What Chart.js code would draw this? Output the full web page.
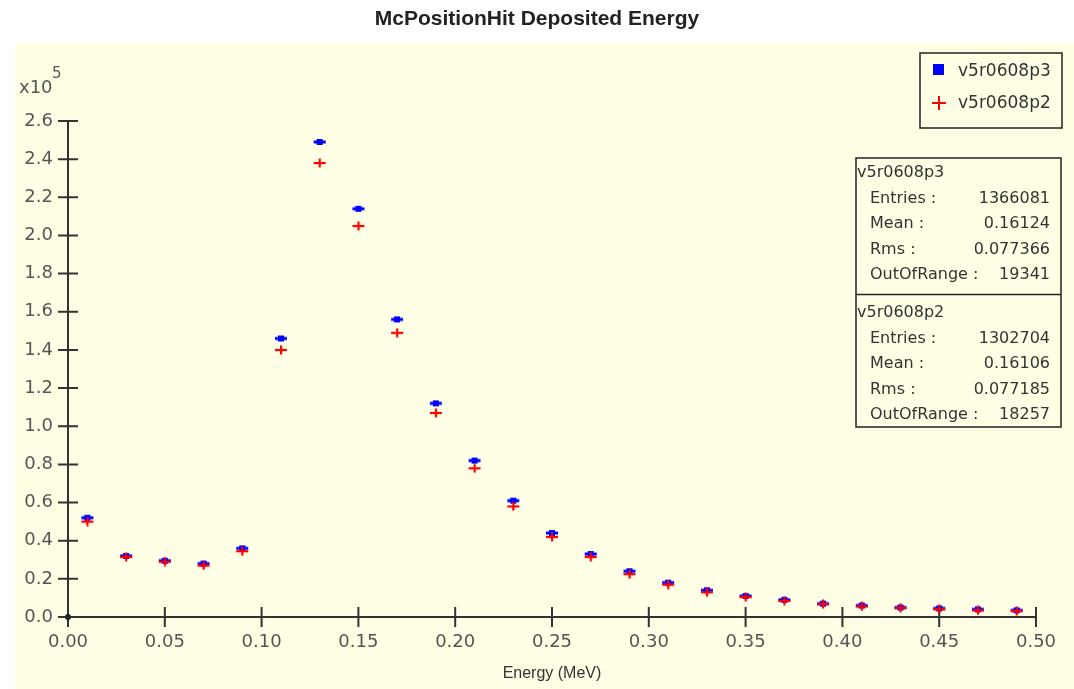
<!DOCTYPE html>
<html>
<head>
<meta charset="utf-8">
<style>
  html, body { margin: 0; padding: 0; background: #ffffff; }
  canvas { display: block; }
</style>
<script src="https://cdn.jsdelivr.net/npm/chart.js@4.4.1/dist/chart.umd.min.js"></script>
</head>
<body>
<canvas id="c" width="1074" height="689"></canvas>
<script>
// ---- data (values in units of 1e5 entries) ----
const chartTitle = 'McPositionHit Deposited Energy';
const xAxisTitle = 'Energy (MeV)';
const yAxisMultiplier = ['x10', '5'];
const seriesNames = ['v5r0608p3', 'v5r0608p2'];
const binCenters = [0.01, 0.03, 0.05, 0.07, 0.09, 0.11, 0.13, 0.15, 0.17, 0.19, 0.21, 0.23, 0.25,
                    0.27, 0.29, 0.31, 0.33, 0.35, 0.37, 0.39, 0.41, 0.43, 0.45, 0.47, 0.49];
const p3Values = [0.52, 0.32, 0.295, 0.28, 0.36, 1.46, 2.49, 2.14, 1.56, 1.12, 0.82, 0.61, 0.44,
                  0.33, 0.24, 0.18, 0.14, 0.11, 0.09, 0.07, 0.06, 0.05, 0.045, 0.04, 0.035];
const p2Values = [0.50, 0.315, 0.29, 0.27, 0.345, 1.40, 2.38, 2.05, 1.49, 1.07, 0.78, 0.58, 0.42,
                  0.315, 0.225, 0.17, 0.13, 0.105, 0.085, 0.068, 0.056, 0.048, 0.041, 0.035, 0.032];
const xTickStep = 0.05, xMin = 0, xMax = 0.5;
const yTickStep = 0.2, yMin = 0, yMax = 2.6;
// statistics box
const statNames = ['v5r0608p3', 'v5r0608p2'];
const statEntries = ['1366081', '1302704'];
const statMeans = ['0.16124', '0.16106'];
const statRms = ['0.077366', '0.077185'];
const statOutOfRange = ['19341', '18257'];

// ---- marker images ----
function blueMarker() {
  const c = document.createElement('canvas');
  c.width = 14; c.height = 8;
  const g = c.getContext('2d');
  g.fillStyle = '#0000ff';
  g.fillRect(1, 2.5, 12, 3);
  g.fillRect(4, 1, 6, 6);
  return c;
}
function redMarker() {
  const c = document.createElement('canvas');
  c.width = 14; c.height = 10;
  const g = c.getContext('2d');
  g.fillStyle = '#ff0000';
  g.fillRect(1, 4, 12, 2.2);
  g.fillRect(6, 0.5, 2.2, 9);
  return c;
}

const bgPlugin = {
  id: 'bg',
  beforeDraw(chart) {
    const ctx = chart.ctx;
    ctx.save();
    ctx.fillStyle = '#ffffff';
    ctx.fillRect(0, 0, chart.width, chart.height);
    ctx.fillStyle = '#ffffe6';
    ctx.fillRect(15, 43, chart.width - 15, chart.height - 43);
    ctx.restore();
  }
};

const axesPlugin = {
  id: 'axesDraw',
  beforeDatasetsDraw(chart) {
    const ctx = chart.ctx;
    const xs = chart.scales.x, ys = chart.scales.y;
    const x0 = xs.getPixelForValue(xMin), x1 = xs.getPixelForValue(xMax);
    const y0 = ys.getPixelForValue(yMin), y1 = ys.getPixelForValue(yMax);
    ctx.save();
    ctx.strokeStyle = '#333333';
    ctx.lineWidth = 2;
    ctx.beginPath();
    ctx.moveTo(x0, y0); ctx.lineTo(x1, y0);
    ctx.moveTo(x0, y0); ctx.lineTo(x0, y1);
    xs.ticks.forEach(t => {
      const px = xs.getPixelForValue(t.value);
      ctx.moveTo(px, y0 - 10); ctx.lineTo(px, y0 + 10);
    });
    ys.ticks.forEach(t => {
      const py = ys.getPixelForValue(t.value);
      ctx.moveTo(x0 - 10, py); ctx.lineTo(x0 + 10, py);
    });
    ctx.stroke();
    ctx.fillStyle = '#222222';
    ctx.beginPath();
    ctx.arc(x0, y0, 3, 0, Math.PI * 2);
    ctx.fill();
    ctx.restore();
  }
};

const overlayPlugin = {
  id: 'overlay',
  afterDraw(chart) {
    const ctx = chart.ctx;
    ctx.save();
    // title
    ctx.fillStyle = '#222222';
    ctx.font = 'bold 21px "Liberation Sans", Arial, sans-serif';
    ctx.textAlign = 'center';
    ctx.textBaseline = 'middle';
    ctx.fillText(chartTitle, 537, 19);
    // multiplier
    ctx.fillStyle = '#555555';
    ctx.textAlign = 'left';
    ctx.font = '18px "DejaVu Sans", sans-serif';
    ctx.fillText(yAxisMultiplier[0], 19, 88);
    ctx.font = '15px "DejaVu Sans", sans-serif';
    ctx.fillText(yAxisMultiplier[1], 52, 74);
    // legend box
    ctx.fillStyle = '#ffffe6';
    ctx.fillRect(920, 53, 142, 75);
    ctx.strokeStyle = '#222222';
    ctx.lineWidth = 1.5;
    ctx.strokeRect(920, 53, 142, 75);
    ctx.fillStyle = '#0000ff';
    ctx.fillRect(933, 64, 11, 11);
    ctx.fillStyle = '#ff0000';
    ctx.fillRect(932, 102, 14, 2);
    ctx.fillRect(938, 96, 2, 14);
    ctx.fillStyle = '#333333';
    ctx.font = '17px "DejaVu Sans", sans-serif';
    ctx.textBaseline = 'middle';
    ctx.fillText(seriesNames[0], 958, 72);
    ctx.fillText(seriesNames[1], 958, 104);
    // stats box
    ctx.fillStyle = '#ffffe6';
    ctx.fillRect(856, 158, 205, 269);
    ctx.strokeStyle = '#222222';
    ctx.lineWidth = 1.5;
    ctx.strokeRect(856, 158, 205, 269);
    ctx.beginPath();
    ctx.moveTo(856, 294.5); ctx.lineTo(1061, 294.5);
    ctx.stroke();
    const blocks = [173, 313];
    blocks.forEach((by, i) => {
      ctx.fillStyle = '#333333';
      ctx.font = '16px "DejaVu Sans", sans-serif';
      ctx.textAlign = 'left';
      ctx.fillText(statNames[i], 857, by);
      const rows = [['Entries :', statEntries[i]], ['Mean :', statMeans[i]],
                    ['Rms :', statRms[i]], ['OutOfRange :', statOutOfRange[i]]];
      rows.forEach((r, j) => {
        const ry = by + 25.5 * (j + 1);
        ctx.textAlign = 'left';
        ctx.fillText(r[0], 870, ry);
        ctx.textAlign = 'right';
        ctx.fillText(r[1], 1050, ry);
      });
    });
    ctx.restore();
  }
};

const ctx = document.getElementById('c').getContext('2d');
new Chart(ctx, {
  type: 'scatter',
  data: {
    datasets: [
      {
        label: seriesNames[0],
        data: binCenters.map((x, i) => ({ x: x, y: p3Values[i] })),
        pointStyle: blueMarker(),
        order: 1
      },
      {
        label: seriesNames[1],
        data: binCenters.map((x, i) => ({ x: x, y: p2Values[i] })),
        pointStyle: redMarker(),
        order: 0
      }
    ]
  },
  options: {
    responsive: false,
    animation: false,
    devicePixelRatio: 1,
    layout: { padding: { top: 121, right: 38, bottom: 0, left: 0 } },
    plugins: {
      legend: { display: false },
      title: { display: false },
      tooltip: { enabled: false }
    },
    scales: {
      x: {
        type: 'linear',
        min: xMin, max: xMax,
        grid: { display: false, drawTicks: false },
        border: { display: false },
        ticks: {
          stepSize: xTickStep,
          color: '#555555',
          font: { family: '"DejaVu Sans", sans-serif', size: 18 },
          padding: 15,
          maxRotation: 0,
          autoSkip: false,
          callback: v => Number(v).toFixed(2)
        },
        title: {
          display: true,
          text: xAxisTitle,
          color: '#333333',
          font: { family: '"Liberation Sans", Arial, sans-serif', size: 16 },
          padding: { top: 0, bottom: 6 }
        },
        afterFit: s => { s.height = 72; }
      },
      y: {
        type: 'linear',
        min: yMin, max: yMax,
        grid: { display: false, drawTicks: false },
        border: { display: false },
        ticks: {
          stepSize: yTickStep,
          color: '#555555',
          font: { family: '"DejaVu Sans", sans-serif', size: 18 },
          padding: 15,
          autoSkip: false,
          callback: v => Number(v).toFixed(1)
        },
        afterFit: s => { s.width = 68; }
      }
    }
  },
  plugins: [bgPlugin, axesPlugin, overlayPlugin]
});
</script>
</body>
</html>
